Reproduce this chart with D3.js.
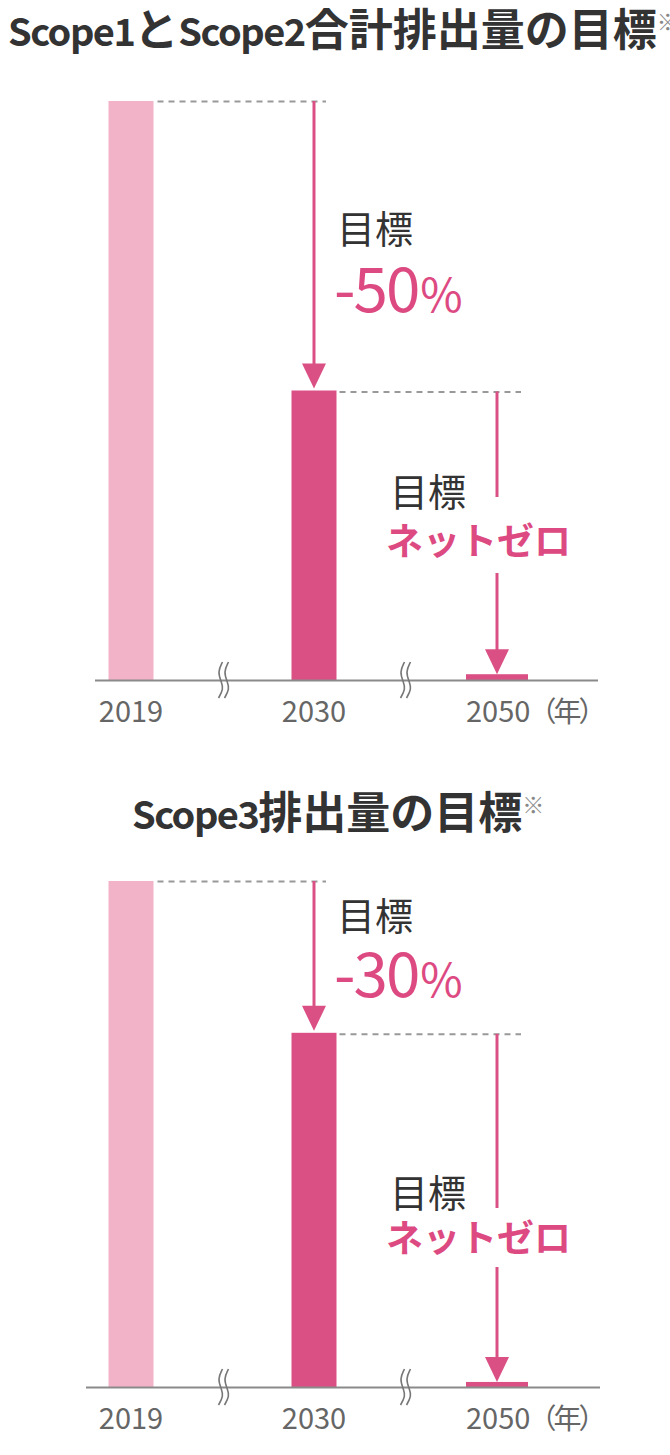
<!DOCTYPE html>
<html><head><meta charset="utf-8">
<script src="https://cdn.jsdelivr.net/npm/d3@7"></script>
<style>
html,body{margin:0;padding:0;background:#fff;}
svg{display:block;font-family:"Noto Sans CJK JP","Noto Sans",sans-serif;}
</style></head>
<body>
<script>
// ---- data ----
const categories = ["2019", "2030", "2050"];
const scope12Values = [100, 50, 1];
const scope3Values = [100, 70, 1];
const titles = ["Scope1とScope2合計排出量の目標", "Scope3排出量の目標"];
const noteMark = "※";
const reductionLabels = ["-50", "-30"];
const percentSign = "%";
const targetLabel = "目標";
const netZeroLabel = "ネットゼロ";
const tickLabels = ["2019", "2030", "2050"];
const yearUnit = "（年）";

// ---- style / layout ----
const W = 670, H = 1455;
const PINK_LIGHT = "#f2b3c9", PINK = "#db5084", PINK_TEXT = "#dd4a82";
const barWidths = [45, 45, 62];
const barColors = [PINK_LIGHT, PINK, PINK];

const charts = [
  { values: scope12Values, title: titles[0], titleX: 8, titleY: 46,
    top: 101, base: 680, xStart: 95, xEnd: 598, reduction: reductionLabels[0],
    tgt1Y: 243, redY: 312, tgt2Y: 506, nzY: 555, gapTop: 497, gapBot: 573, labelY: 722 },
  { values: scope3Values, title: titles[1], titleX: 132, titleY: 829,
    top: 881, base: 1387, xStart: 86, xEnd: 600, reduction: reductionLabels[1],
    tgt1Y: 930, redY: 997, tgt2Y: 1207, nzY: 1252, gapTop: 1208, gapBot: 1267, labelY: 1429 }
];

const svg = d3.select("body").append("svg").attr("width", W).attr("height", H);

const x = d3.scalePoint().domain(categories).range([131, 497]);

// split a title into Latin / CJK runs so each can be sized like the reference
function titleRuns(s) {
  const runs = [];
  for (const ch of s) {
    const latin = /[A-Za-z0-9]/.test(ch);
    if (runs.length && runs[runs.length - 1].latin === latin) runs[runs.length - 1].text += ch;
    else runs.push({ latin, text: ch });
  }
  return runs;
}

charts.forEach(c => {
  const g = svg.append("g");
  const y = d3.scaleLinear().domain([0, 100]).range([c.base, c.top]);

  // title
  const t = g.append("text").attr("x", c.titleX).attr("y", c.titleY)
    .attr("font-weight", 700).attr("fill", "#333");
  titleRuns(c.title).forEach(r => {
    t.append("tspan").text(r.text)
      .attr("font-size", r.latin ? 38 : 44)
      .attr("letter-spacing", r.latin ? -1.5 : 0);
  });
  t.append("tspan").text(noteMark).attr("font-size", 22).attr("font-weight", 400)
    .attr("fill", "#888").attr("dy", -16);

  // bars
  g.selectAll("rect.bar").data(c.values).join("rect").attr("class", "bar")
    .attr("x", (d, i) => x(categories[i]) - barWidths[i] / 2)
    .attr("width", (d, i) => barWidths[i])
    .attr("y", d => y(d))
    .attr("height", d => y(0) - y(d))
    .attr("fill", (d, i) => barColors[i]);

  // baseline
  g.append("line").attr("x1", c.xStart).attr("x2", c.xEnd)
    .attr("y1", c.base + 0.5).attr("y2", c.base + 0.5)
    .attr("stroke", "#8a8a8a").attr("stroke-width", 2);

  // break marks
  const breaks = [ (x(categories[0]) + x(categories[1])) / 2 + 1, (x(categories[1]) + x(categories[2])) / 2 ];
  const wave = d3.line().curve(d3.curveBasis);
  breaks.forEach(bx => {
    [-3, 3].forEach(off => {
      g.append("path")
        .attr("d", wave([[bx + off + 2, c.base - 18], [bx + off - 3, c.base - 8], [bx + off + 1, c.base + 2], [bx + off + 3, c.base + 9], [bx + off - 2, c.base + 18]]))
        .attr("fill", "none").attr("stroke", "#777").attr("stroke-width", 1.6);
    });
  });

  // dashed guides
  const x0 = x(categories[0]), x1 = x(categories[1]), x2 = x(categories[2]);
  g.append("line").attr("x1", x0 + barWidths[0] / 2 + 4).attr("x2", x1 + 12)
    .attr("y1", y(c.values[0]) + 0.5).attr("y2", y(c.values[0]) + 0.5)
    .attr("stroke", "#999").attr("stroke-width", 2).attr("stroke-dasharray", "6,5");
  g.append("line").attr("x1", x1 + barWidths[1] / 2 + 3).attr("x2", x2 + 24)
    .attr("y1", y(c.values[1]) + 1.5).attr("y2", y(c.values[1]) + 1.5)
    .attr("stroke", "#999").attr("stroke-width", 2).attr("stroke-dasharray", "6,5");

  // arrows
  const headH = 25, headW = 24;
  function arrowHead(ax, tipY) {
    g.append("path").attr("d", `M${ax - headW / 2},${tipY - headH}L${ax + headW / 2},${tipY - headH}L${ax},${tipY}Z`)
      .attr("fill", PINK);
  }
  const tip1 = y(c.values[1]) - 2;
  g.append("line").attr("x1", x1).attr("x2", x1).attr("y1", y(c.values[0])).attr("y2", tip1 - headH + 2)
    .attr("stroke", PINK).attr("stroke-width", 3);
  arrowHead(x1, tip1);
  const tip2 = y(c.values[2]);
  g.append("line").attr("x1", x2).attr("x2", x2).attr("y1", y(c.values[1]) + 1).attr("y2", c.gapTop)
    .attr("stroke", PINK).attr("stroke-width", 3);
  g.append("line").attr("x1", x2).attr("x2", x2).attr("y1", c.gapBot).attr("y2", tip2 - headH + 2)
    .attr("stroke", PINK).attr("stroke-width", 3);
  arrowHead(x2, tip2);

  // annotation labels
  g.append("text").attr("x", x1 + 23).attr("y", c.tgt1Y).attr("font-size", 38).attr("fill", "#333").text(targetLabel);
  const red = g.append("text").attr("x", x1 + 20).attr("y", c.redY).attr("font-size", 62).attr("fill", PINK_TEXT)
    .attr("letter-spacing", -2);
  red.append("tspan").text(c.reduction);
  red.append("tspan").text(percentSign).attr("font-size", 46).attr("dx", 2);
  g.append("text").attr("x", x2 - 107).attr("y", c.tgt2Y).attr("font-size", 38).attr("fill", "#333").text(targetLabel);
  g.append("text").attr("x", x2 - 111).attr("y", c.nzY).attr("font-size", 37).attr("font-weight", 700)
    .attr("fill", PINK_TEXT).text(netZeroLabel);

  // tick labels
  tickLabels.forEach((lab, i) => {
    const tx = g.append("text").attr("y", c.labelY).attr("font-size", 29).attr("fill", "#666");
    if (i < 2) {
      tx.attr("x", x(categories[i])).attr("text-anchor", "middle").text(lab);
    } else {
      tx.attr("x", x(categories[i]) - 31).attr("text-anchor", "start");
      tx.append("tspan").text(lab);
      tx.append("tspan").text(yearUnit).attr("font-size", 28).attr("letter-spacing", -3).attr("dx", -2);
    }
  });
});
</script>
</body></html>
